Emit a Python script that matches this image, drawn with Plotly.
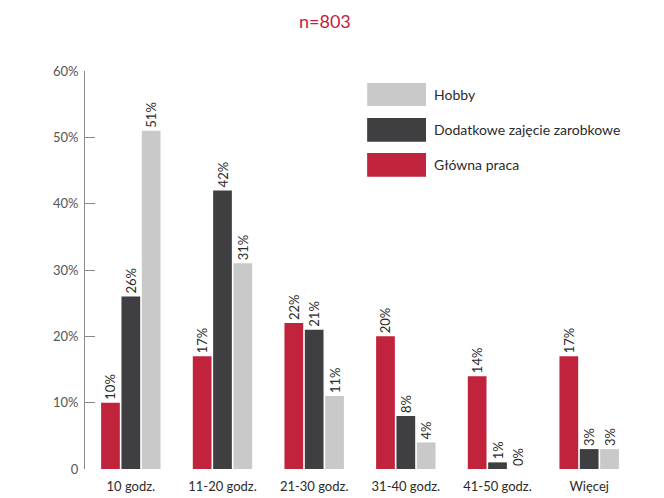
import plotly.graph_objects as go

categories = ["10 godz.", "11-20 godz.", "21-30 godz.", "31-40 godz.", "41-50 godz.", "Więcej"]
glowna = [10, 17, 22, 20, 14, 17]
dodatkowe = [26, 42, 21, 8, 1, 3]
hobby = [51, 31, 11, 4, 0, 3]
tick_vals = [0, 10, 20, 30, 40, 50, 60]
tick_text = ["0", "10%", "20%", "30%", "40%", "50%", "60%"]

RED = "#C0233B"
DARK = "#3F3F41"
LIGHT = "#C9C9C9"
series = [("Główna praca", glowna, RED), ("Dodatkowe zajęcie zarobkowe", dodatkowe, DARK), ("Hobby", hobby, LIGHT)]

fig = go.Figure()
for name, vals, col in series:
    fig.add_trace(go.Bar(
        x=categories, y=vals, name=name, marker_color=col, marker_line_width=0,
        text=[f"{v}%" for v in vals], textposition="outside", textangle=-90,
        constraintext="none",
        textfont=dict(size=13, color="#2b2b2b"), cliponaxis=False,
    ))

# legend drawn by hand: large swatches like the original
legend_items = [("Hobby", LIGHT, 0.970, 0.912), ("Dodatkowe zajęcie zarobkowe", DARK, 0.882, 0.822), ("Główna praca", RED, 0.794, 0.734)]
for label, col, y1, y0 in legend_items:
    fig.add_shape(type="rect", xref="paper", yref="paper", x0=0.513, x1=0.620, y0=y0, y1=y1,
                  fillcolor=col, line_width=0)
    fig.add_annotation(xref="paper", yref="paper", x=0.630, y=(y0 + y1) / 2, text=label,
                       showarrow=False, xanchor="left", yanchor="middle",
                       font=dict(size=14, color="#2b2b2b"))

fig.add_annotation(xref="paper", yref="paper", x=0.436, y=1.125, text="n=803", showarrow=False,
                   xanchor="center", yanchor="middle", font=dict(size=18, color=RED))

# page body adds ~8px offset, margins compensate
fig.update_layout(
    width=664, height=498, margin=dict(l=77, r=37, t=63, b=37),
    paper_bgcolor="white", plot_bgcolor="white", showlegend=False,
    font=dict(family="Lato, Open Sans, sans-serif", color="#333333"),
    barmode="group", bargap=0.334, bargroupgap=0.08,
    xaxis=dict(showline=False, ticks="", ticklabelstandoff=8, tickfont=dict(size=13, color="#2b2b2b")),
    yaxis=dict(range=[0, 60], tickvals=tick_vals, ticktext=tick_text, showgrid=False,
               showline=True, linecolor="#8a8a8a", linewidth=1, ticks="inside", ticklen=10,
               tickcolor="#8a8a8a", ticklabelstandoff=3, tickfont=dict(size=13, color="#555555"),
               zeroline=False),
)

fig.write_html("out.html")
